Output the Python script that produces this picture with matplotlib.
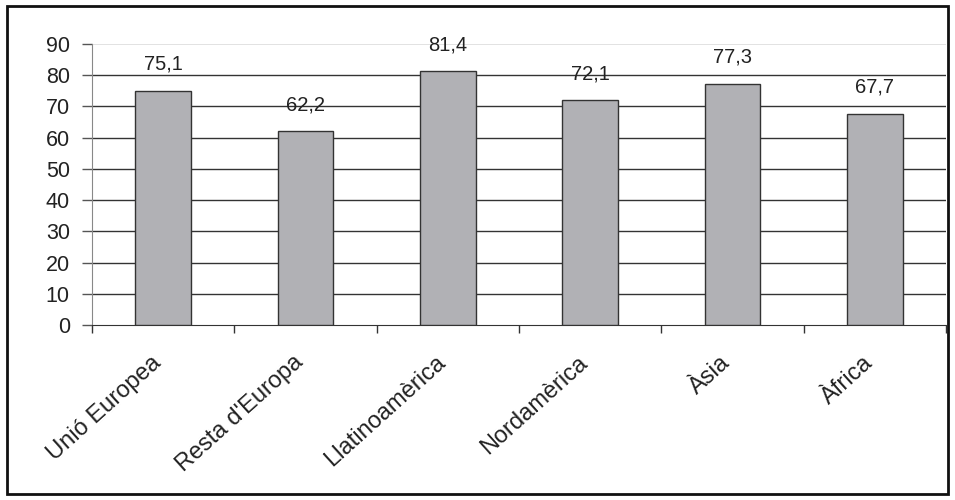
import matplotlib
matplotlib.use("Agg")
import matplotlib.pyplot as plt
from matplotlib.patches import Rectangle
from matplotlib.transforms import ScaledTranslation
import numpy as np

categories = ["Unió Europea", "Resta d'Europa", "Llatinoamèrica", "Nordamèrica", "Àsia", "Àfrica"]
values = [75.1, 62.2, 81.4, 72.1, 77.3, 67.7]
value_labels = ["75,1", "62,2", "81,4", "72,1", "77,3", "67,7"]
yticks = [0, 10, 20, 30, 40, 50, 60, 70, 80, 90]

plt.rcParams['font.family'] = ['Liberation Sans', 'DejaVu Sans']

fig = plt.figure(figsize=(9.55, 5.0), dpi=100)
fig.patches.append(Rectangle((0.007, 0.012), 0.986, 0.976, transform=fig.transFigure,
                             fill=False, edgecolor='#111111', linewidth=2.0))
ax = fig.add_axes([92/955, 1 - 325/500, (946-92)/955, (325-44)/500])

x = np.arange(len(categories))
ax.bar(x, values, width=0.39, color='#B1B1B5', edgecolor='#333333', linewidth=1.0, zorder=3)
for xi, v, lab in zip(x, values, value_labels):
    ax.annotate(lab, (xi, v), xytext=(0, 12), textcoords='offset points',
                ha='center', va='bottom', fontsize=14.5, color='#222222')

ax.set_xlim(-0.5, len(categories) - 0.5)
ax.set_ylim(0, 90)
ax.set_yticks(yticks)
ax.set_yticklabels([str(t) for t in yticks], fontsize=15.5, color='#222222')
for t in yticks[1:-1]:
    ax.axhline(t, color='#333333', linewidth=1.0, zorder=1)
ax.axhline(90, color='#DDDDDD', linewidth=1.2, zorder=1)

ax.set_xticks(x)
ax.set_xticklabels(categories, rotation=42, ha='right', va='top', rotation_mode='anchor',
                   fontsize=17, color='#222222')
ax.tick_params(axis='x', length=0, pad=19)
shift = ScaledTranslation(-9/72, 0, fig.dpi_scale_trans)
for lbl in ax.get_xticklabels():
    lbl.set_transform(lbl.get_transform() + shift)
ax.set_xticks(np.arange(-0.5, len(categories) + 0.5, 1), minor=True)
ax.tick_params(axis='x', which='minor', length=6, width=1, color='#333333', direction='out')
ax.tick_params(axis='y', length=7, width=1, color='#555555', pad=9)

ax.spines['top'].set_visible(False)
ax.spines['right'].set_visible(False)
ax.spines['left'].set_color('#888888')
ax.spines['bottom'].set_color('#333333')

fig.savefig('out.png', dpi=100)
